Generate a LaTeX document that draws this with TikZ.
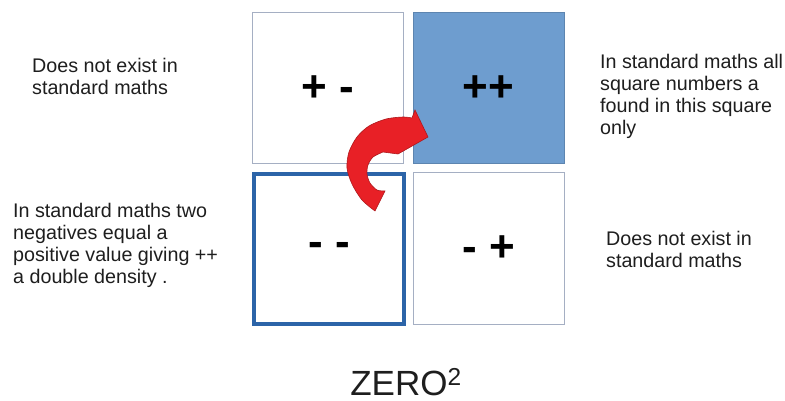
\documentclass[tikz,border=0pt]{standalone}
\usepackage{fontspec}
\setmainfont{Liberation Sans}
\definecolor{sqline}{RGB}{165,175,195}
\definecolor{sqfill}{RGB}{110,157,207}
\definecolor{sqdark}{RGB}{44,100,168}
\definecolor{arrowred}{RGB}{232,32,38}
\definecolor{txt}{RGB}{30,30,30}
\begin{document}
\begin{tikzpicture}[x=1pt,y=-1pt,
		sq/.style={draw=sqline, line width=1pt, minimum size=151pt, inner sep=0pt, font=\fontsize{44}{50}\selectfont\bfseries},
		lab/.style={align=left, anchor=base west, inner sep=0pt, text=txt, font=\fontsize{19.7}{22}\selectfont},
		arw/.style={fill=arrowred, draw=arrowred!75!black, line width=0.6pt}
		]
		\useasboundingbox[fill=white] (0,0) rectangle (785,401);
		% the four squares
		\node[sq] (pm) at (327.5,88.5) {+ -};
		\node[sq, fill=sqfill, draw=sqfill!85!black] (pp) at (488.5,88.5) {++};
		\node[sq, draw=sqdark, line width=4pt, minimum size=150pt] (mm) at (329,249) {- -};
		\node[sq] (mp) at (488.5,248.5) {- +};
		% curved arrow
		\filldraw[arw] plot[smooth] coordinates {(375,211) (362,200) (352,184) (347,168) (349,152) (357,137) (369,126) (386,119) (403,117) (412,118)}
			-- (415,110) -- (428,137) -- (398,154)
			-- plot[smooth] coordinates {(383,152) (373,157) (368,165) (367,174) (370,183) (377,190) (385,191)}
			-- cycle;
		% notes (base = last line)
		\node[lab] (tl) at (32,95) {Does not exist in\\standard maths};
		\node[lab] (bl) at (13,283) {In standard maths two\\negatives equal a\\positive value giving ++\\a double density .};
		\node[lab] (tr) at (600,135) {In standard maths all\\square numbers a\\found in this square\\only};
		\node[lab] (br) at (606,267) {Does not exist in\\standard maths};
		\node[anchor=base, inner sep=0pt, text=txt, font=\fontsize{35}{40}\selectfont] (zero) at (406,395) {ZERO\textsuperscript{2}};
	\end{tikzpicture}
\end{document}
